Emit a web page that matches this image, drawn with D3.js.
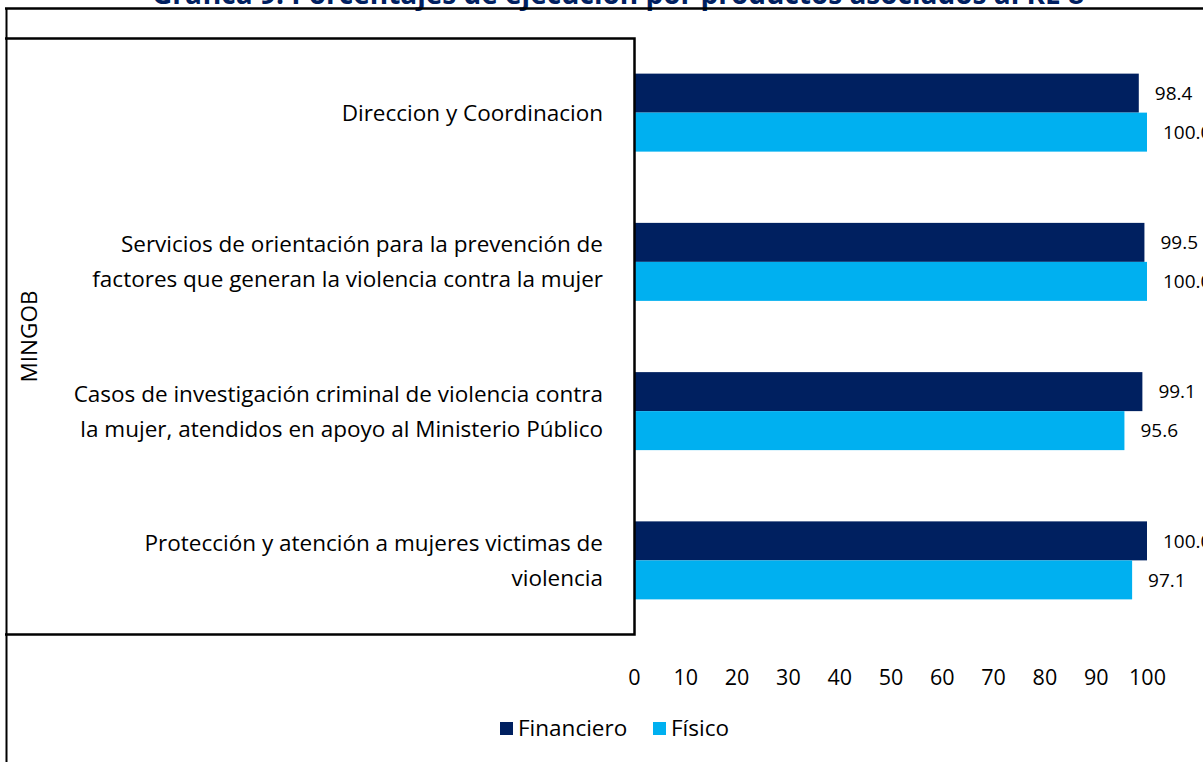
<!DOCTYPE html>
<html>
<head>
<meta charset="utf-8">
<script src="https://cdn.jsdelivr.net/npm/d3@7"></script>
<style>
  body { margin: 0; background: #fff; }
  svg { display: block; font-family: 'Open Sans', 'Noto Sans', sans-serif; }
</style>
</head>
<body>
<svg id="chart" width="1203" height="762"></svg>
<script>
var title = 'Gráfica  9. Porcentajes de ejecución por productos asociados al RE 8'
var groupLabel = 'MINGOB'
var categories = [
  ['Direccion y Coordinacion'],
  ['Servicios de orientación para la prevención de', 'factores que generan la violencia contra la mujer'],
  ['Casos de investigación criminal de violencia contra', 'la mujer, atendidos en apoyo al Ministerio Público'],
  ['Protección y atención a  mujeres victimas de', 'violencia']
]
var seriesNames = ['Financiero', 'Físico']
var financiero = [98.4, 99.5, 99.1, 100.0]
var fisico = [100.0, 100.0, 95.6, 97.1]
var xTicks = [0, 10, 20, 30, 40, 50, 60, 70, 80, 90, 100]
var colors = ['#002060', '#00B0F0']

var svg = d3.select('#chart')
var margin = {top: 38, left: 634, right: 56, bottom: 127}
var width = 1203 - margin.left - margin.right,
  height = 762 - margin.top - margin.bottom

var data = categories.map(function (c, i) {
  return { key: i, label: c, values: [financiero[i], fisico[i]] }
})

var x = d3.scaleLinear().domain([0, 100]).range([0, 1147 - margin.left])
var y = d3.scaleBand().domain(data.map(function (d) { return d.key })).range([0, height])
var inner = d3.scaleBand().domain([0, 1]).range([0, 78])

// title (cut off at the top edge like the source)
svg.append('text')
  .attr('x', 618).attr('y', 4)
  .attr('text-anchor', 'middle')
  .style('font-weight', 'bold')
  .style('font-size', '28px')
  .style('fill', '#002060')
  .text(title)

// outer frame lines
svg.append('line').attr('x1', 5).attr('x2', 1203).attr('y1', 8.5).attr('y2', 8.5)
  .attr('stroke', '#000').attr('stroke-width', 2.5)
svg.append('line').attr('x1', 6.5).attr('x2', 6.5).attr('y1', 8).attr('y2', 762)
  .attr('stroke', '#000').attr('stroke-width', 2)

var g = svg.append('g').attr('transform', 'translate(' + margin.left + ',' + margin.top + ')')

// bars
var groups = g.selectAll('.grp').data(data).enter().append('g')
  .attr('class', 'grp')
  .attr('transform', function (d) { return 'translate(0,' + (y(d.key) + (y.bandwidth() - 78) / 2) + ')' })

groups.selectAll('rect').data(function (d) { return d.values }).enter().append('rect')
  .attr('x', 0)
  .attr('y', function (v, i) { return inner(i) })
  .attr('width', function (v) { return x(v) })
  .attr('height', inner.bandwidth())
  .attr('fill', function (v, i) { return colors[i] })

groups.selectAll('.val').data(function (d) { return d.values }).enter().append('text')
  .attr('class', 'val')
  .attr('x', function (v) { return x(v) + 16 })
  .attr('y', function (v, i) { return inner(i) + inner.bandwidth() / 2 })
  .attr('dy', '0.35em')
  .style('font-size', '19px')
  .style('fill', '#000')
  .text(function (v) { return d3.format('.1f')(v) })

// x axis tick labels (no axis line)
var xAxis = g.append('g')
  .attr('transform', 'translate(0,' + height + ')')
  .call(d3.axisBottom(x).tickValues(xTicks).tickSize(0).tickPadding(35).tickFormat(d3.format('d')))
xAxis.select('.domain').remove()
xAxis.selectAll('text').style('font-size', '21.5px').style('font-family', "'Open Sans', sans-serif").attr('fill', '#000')

// category box
g.append('path')
  .attr('d', 'M' + (5 - margin.left) + ',0.5H0.5V' + (height - 0.5) + 'H' + (5 - margin.left))
  .attr('fill', 'none').attr('stroke', '#000').attr('stroke-width', 2.5)

// category labels
var lineH = 35
g.selectAll('.cat').data(data).enter().append('text')
  .attr('class', 'cat')
  .attr('text-anchor', 'end')
  .style('font-size', '22.5px')
  .style('fill', '#000')
  .each(function (d) {
    var t = d3.select(this)
    var cy = y(d.key) + y.bandwidth() / 2
    d.label.forEach(function (line, k) {
      t.append('tspan')
        .attr('x', -31)
        .attr('y', cy + (k - (d.label.length - 1) / 2) * lineH)
        .attr('dy', '0.35em')
        .text(line)
    })
  })

g.append('text')
  .attr('transform', 'translate(' + (37 - margin.left) + ',' + (height / 2) + ') rotate(-90)')
  .attr('text-anchor', 'middle')
  .style('font-size', '22.5px')
  .text(groupLabel)

// legend
var legend = svg.append('g').attr('transform', 'translate(0,728)')
var lx = [500, 653]
seriesNames.forEach(function (n, i) {
  legend.append('rect').attr('x', lx[i]).attr('y', -6).attr('width', 13).attr('height', 13).attr('fill', colors[i])
  legend.append('text').attr('x', lx[i] + 18).attr('y', 0).attr('dy', '0.35em')
    .style('font-size', '22.5px').text(n)
})
</script>
</body>
</html>
